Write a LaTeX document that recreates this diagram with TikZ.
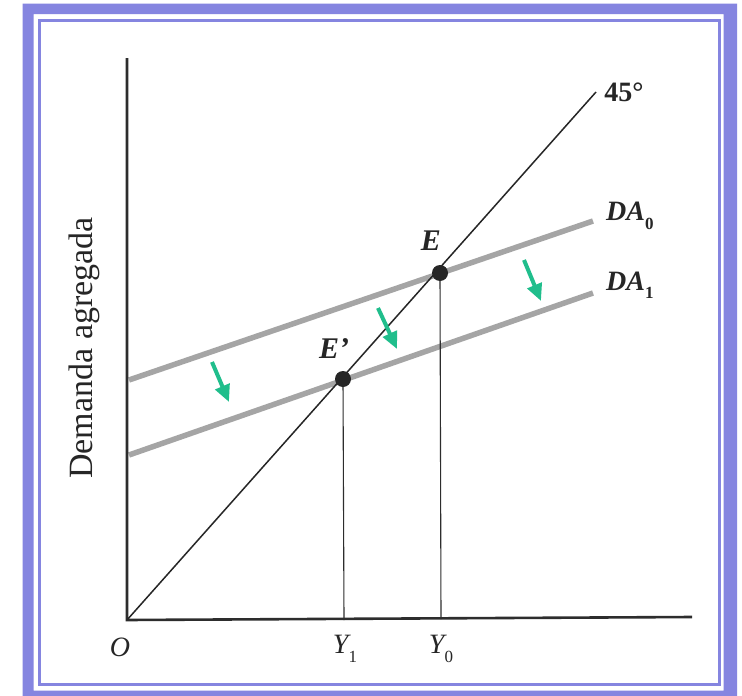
\documentclass[tikz,border=0pt]{standalone}
\usepackage{fontspec}
\setmainfont{Liberation Serif}
\usetikzlibrary{arrows.meta}
\definecolor{framepurple}{RGB}{133,133,224}
\definecolor{arrowgreen}{RGB}{32,190,140}
\definecolor{dagray}{RGB}{165,165,165}
\definecolor{axisgray}{RGB}{45,45,45}
\newcommand{\mysub}[1]{\raisebox{-0.3em}{\fontsize{17}{17}\selectfont\upshape #1}}
\tikzset{
  axisline/.style={draw=axisgray,line width=2.6pt},
  fortyfive/.style={draw=black!85,line width=1.5pt},
  daline/.style={draw=dagray,line width=5.5pt},
  dropline/.style={draw=axisgray,line width=1.1pt},
  eqdot/.style={circle,fill=black!85,inner sep=0pt,minimum size=16pt},
  shiftarrow/.style={draw=arrowgreen,line width=4pt,-{Triangle[length=17pt,width=15pt]}},
  lbl/.style={inner sep=0pt,text=black!85},
}
\begin{document}
\begin{tikzpicture}[x=1pt,y=-1pt]
\useasboundingbox (0,0) rectangle (742,696);
% frame
\fill[white] (0,0) rectangle (742,696);
\fill[framepurple,even odd rule] (22.7,3.5) rectangle (737,700) (33.5,14) rectangle (723.5,690.5);
\draw[framepurple,line width=3pt] (39.2,20.3) rectangle (719.2,684);
% coordinates
\coordinate (O) at (127,620);
\coordinate (ytop) at (127,58);
\coordinate (xend) at (692,617);
\coordinate (ftop) at (596,92);
\coordinate (da0a) at (129,380);
\coordinate (da0b) at (593,221);
\coordinate (da1a) at (129,455);
\coordinate (da1b) at (593,293);
\coordinate (Y1) at (344,620);
\coordinate (Y0) at (441,619);
% DA lines
\draw[daline] (da0a) -- (da0b);
\draw[daline] (da1a) -- (da1b);
% axes
\draw[axisline] (ytop) -- (O) -- (xend);
% 45 line
\draw[fortyfive] (O) -- (ftop);
% equilibrium points
\node[eqdot] (E) at (440,273) {};
\node[eqdot] (Ep) at (343,379) {};
\draw[dropline] (E) -- (Y0);
\draw[dropline] (Ep) -- (Y1);
% labels
\node[lbl,font=\fontsize{28}{28}\selectfont\bfseries] (l45) at (624,92) {45°};
\node[lbl,font=\fontsize{28}{28}\selectfont\bfseries\itshape,anchor=west] (lda0) at (606,216) {DA\mysub{0}};
\node[lbl,font=\fontsize{28}{28}\selectfont\bfseries\itshape,anchor=west] (lda1) at (606,285) {DA\mysub{1}};
\node[lbl,font=\fontsize{30}{30}\selectfont\bfseries\itshape] (lE) at (431,241) {E};
\node[lbl,font=\fontsize{30}{30}\selectfont\bfseries\itshape] (lEp) at (334,349) {E'};
\node[lbl,font=\fontsize{28}{28}\selectfont\itshape] (lO) at (120,647) {O};
\node[lbl,font=\fontsize{28}{28}\selectfont\itshape] (lY1) at (345,649) {Y\mysub{1}};
\node[lbl,font=\fontsize{28}{28}\selectfont\itshape] (lY0) at (441,649) {Y\mysub{0}};
\node[lbl,font=\fontsize{34}{34}\selectfont,rotate=90] (lDA) at (84,348) {Demanda agregada};
% shift arrows
\draw[shiftarrow] (212,362) -- (229,402);
\draw[shiftarrow] (378,308) -- (397,349);
\draw[shiftarrow] (524,260) -- (541,301);
\end{tikzpicture}
\end{document}
